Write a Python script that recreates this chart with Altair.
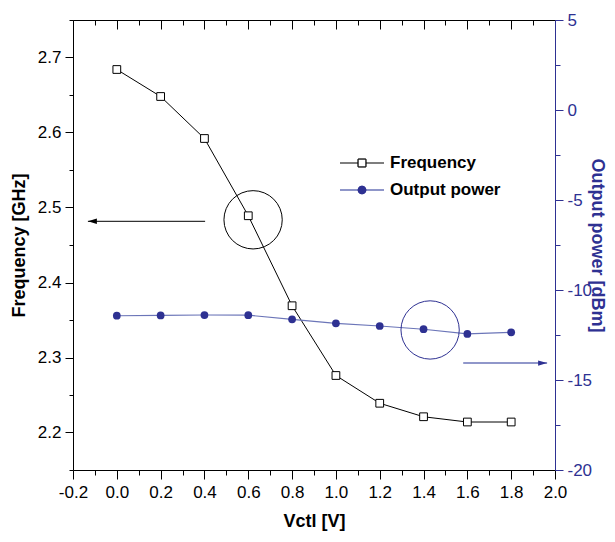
import altair as alt
import pandas as pd

vctl = [0.0, 0.2, 0.4, 0.6, 0.8, 1.0, 1.2, 1.4, 1.6, 1.8]
frequency = [2.684, 2.648, 2.592, 2.489, 2.369, 2.276, 2.239, 2.221, 2.214, 2.214]
power = [-11.43, -11.41, -11.39, -11.40, -11.63, -11.85, -12.00, -12.18, -12.44, -12.35]

x_ticks = [round(-0.2 + 0.1 * i, 1) for i in range(23)]
f_ticks = [round(2.15 + 0.05 * i, 2) for i in range(13)]
p_ticks = [round(-20 + 2.5 * i, 1) for i in range(11)]

legend_labels = ["Frequency", "Output power"]

# annotation anchors (data coordinates)
f_circle = {"x": [0.622], "y": [2.4836]}
p_circle = {"x": [1.430], "y": [-12.22]}
f_arrow = {"x": [0.403], "x2": [-0.132], "y": [2.4816]}
p_arrow = {"x": [1.581], "x2": [1.964], "y": [-14.06]}

BLUE = "#2E3192"
LBLUE = "#6B75B8"
FONT = "Liberation Sans Narrow, Arial Narrow, Liberation Sans, sans-serif"
BFONT = "Liberation Sans Narrow, Arial Narrow, Liberation Sans, sans-serif"

df = pd.DataFrame({"vctl": vctl, "freq": frequency, "power": power})

xscale = alt.Scale(domain=[-0.2, 2.0], nice=False, zero=False)
fscale = alt.Scale(domain=[2.15, 2.75], nice=False, zero=False)
pscale = alt.Scale(domain=[-20, 5], nice=False, zero=False)

X_MAJ = "abs(datum.value*5 - round(datum.value*5)) < 0.01"
F_MAJ = "abs(datum.value*10 - round(datum.value*10)) < 0.01"
P_MAJ = "abs(datum.value/5 - round(datum.value/5)) < 0.01"

x_axis = alt.Axis(
    orient="bottom", values=x_ticks, grid=False,
    labelExpr="(" + X_MAJ + ") ? replace(format(datum.value, '.1f'), '\u2212', '-') : ''",
    tickSize={"condition": {"test": X_MAJ, "value": 9}, "value": 5},
    domainColor="black", tickColor="black", labelColor="black",
    labelFont=FONT, labelFontSize=17, labelPadding=5, labelFlush=False, labelOverlap=False,
    title="Vctl [V]", titleFont=BFONT, titleFontSize=18, titleFontWeight="bold",
    titleColor="black", titleX=241, titleY=51, titleBaseline="middle", titleAlign="center",
)
top_axis = alt.Axis(
    orient="bottom", offset=-450, values=x_ticks, grid=False, labels=False, title=None,
    tickSize={"condition": {"test": X_MAJ, "value": 9}, "value": 5},
    domainColor="black", tickColor="black",
)
f_axis = alt.Axis(
    orient="left", values=f_ticks, grid=False,
    labelExpr="(" + F_MAJ + ") ? format(datum.value, '.1f') : ''",
    tickSize={"condition": {"test": F_MAJ, "value": 8}, "value": 4},
    domainColor="black", tickColor="black", labelColor="black",
    labelFont=FONT, labelFontSize=17, labelPadding=4, labelOverlap=False,
    title="Frequency [GHz]", titleFont=BFONT, titleFontSize=18, titleFontWeight="bold",
    titleColor="black", titleX=-54, titleY=225, titleBaseline="middle", titleAlign="center",
    titleAngle=270,
)
p_axis = alt.Axis(
    orient="right", values=p_ticks, grid=False,
    labelExpr="(" + P_MAJ + ") ? replace(format(datum.value, 'd'), '\u2212', '-') : ''",
    tickSize={"condition": {"test": P_MAJ, "value": 8}, "value": 5},
    domainColor=BLUE, tickColor=BLUE, labelColor=BLUE,
    labelFont=FONT, labelFontSize=17, labelPadding=4, labelOverlap=False,
    title="Output power [dBm]", titleFont=BFONT, titleFontSize=18, titleFontWeight="bold",
    titleColor=BLUE, titleX=41, titleY=225, titleBaseline="middle", titleAlign="center",
    titleAngle=90,
)

base = alt.Chart(df)

f_line = base.mark_line(color="black", strokeWidth=1).encode(
    x=alt.X("vctl:Q", scale=xscale, axis=x_axis),
    y=alt.Y("freq:Q", scale=fscale, axis=f_axis),
)
f_pts = base.mark_point(shape="square", size=60, filled=True, fill="white",
                        stroke="black", strokeWidth=1, opacity=1).encode(
    x=alt.X("vctl:Q", axis=x_axis), y=alt.Y("freq:Q", axis=f_axis))

fc = alt.Chart(pd.DataFrame(f_circle)).mark_point(
    shape="circle", size=3400, filled=False, color="black", strokeWidth=1, opacity=1
).encode(x=alt.X("x:Q", axis=x_axis), y=alt.Y("y:Q", axis=f_axis))
fa_df = pd.DataFrame(f_arrow)
fa_line = alt.Chart(fa_df).mark_rule(color="black", strokeWidth=1).encode(
    x=alt.X("x:Q", axis=x_axis), x2="x2:Q", y=alt.Y("y:Q", axis=f_axis))
fa_head = alt.Chart(fa_df).mark_point(
    shape="M0,0 L3,-0.9 L3,0.9 Z", size=36, filled=True, color="black", opacity=1
).encode(x=alt.X("x2:Q", axis=x_axis), y=alt.Y("y:Q", axis=f_axis))

# legend
leg_df = pd.DataFrame({"label": legend_labels})
leg_f_line = alt.Chart(leg_df).mark_rule(color="#555555", strokeWidth=1.2).encode(
    x=alt.value(267), x2=alt.value(311), y=alt.value(143))
leg_f_pt = alt.Chart(leg_df).mark_point(shape="square", size=60, filled=True, fill="white",
                                        stroke="black", strokeWidth=1, opacity=1).encode(
    x=alt.value(289), y=alt.value(143))
leg_f_txt = alt.Chart(leg_df).transform_filter(alt.datum.label == legend_labels[0]).mark_text(
    align="left", baseline="middle", font=BFONT, fontSize=17, fontWeight="bold", color="black"
).encode(x=alt.value(317), y=alt.value(143), text="label:N")
leg_p_line = alt.Chart(leg_df).mark_rule(color=LBLUE, strokeWidth=1.2).encode(
    x=alt.value(267), x2=alt.value(311), y=alt.value(170))
leg_p_pt = alt.Chart(leg_df).mark_point(shape="circle", size=75, filled=True, color=BLUE, opacity=1).encode(
    x=alt.value(289), y=alt.value(170))
leg_p_txt = alt.Chart(leg_df).transform_filter(alt.datum.label == legend_labels[1]).mark_text(
    align="left", baseline="middle", font=BFONT, fontSize=17, fontWeight="bold", color="black"
).encode(x=alt.value(317), y=alt.value(170), text="label:N")

freq_layer = alt.layer(f_line, fc, fa_line, fa_head, f_pts,
                       leg_f_line, leg_f_pt, leg_f_txt, leg_p_line, leg_p_pt, leg_p_txt)

p_line = base.mark_line(color=LBLUE, strokeWidth=1.2).encode(
    x=alt.X("vctl:Q", scale=xscale, axis=top_axis),
    y=alt.Y("power:Q", scale=pscale, axis=p_axis),
)
p_pts = base.mark_point(shape="circle", size=60, filled=True, color=BLUE, opacity=1).encode(
    x=alt.X("vctl:Q", axis=top_axis), y=alt.Y("power:Q", axis=p_axis))
pc = alt.Chart(pd.DataFrame(p_circle)).mark_point(
    shape="circle", size=3400, filled=False, color=BLUE, strokeWidth=1, opacity=1
).encode(x=alt.X("x:Q", axis=top_axis), y=alt.Y("y:Q", axis=p_axis))
pa_df = pd.DataFrame(p_arrow)
pa_line = alt.Chart(pa_df).mark_rule(color=LBLUE, strokeWidth=1.5).encode(
    x=alt.X("x:Q", axis=top_axis), x2="x2:Q", y=alt.Y("y:Q", axis=p_axis))
pa_head = alt.Chart(pa_df).mark_point(
    shape="M0,0 L-3,-0.9 L-3,0.9 Z", size=36, filled=True, color=BLUE, opacity=1
).encode(x=alt.X("x2:Q", axis=top_axis), y=alt.Y("y:Q", axis=p_axis))

power_layer = alt.layer(p_line, pc, pa_line, pa_head, p_pts)

chart = alt.layer(freq_layer, power_layer).resolve_scale(
    y="independent"
).resolve_axis(x="independent", y="independent").properties(
    width=482, height=450,
    autosize=alt.AutoSizeParams(type="none"),
    padding={"left": 65, "top": 12, "right": 52, "bottom": 64},
    background="white",
).configure_view(stroke=None)

chart.save("out.html", embed_options={"renderer": "svg", "actions": False})
